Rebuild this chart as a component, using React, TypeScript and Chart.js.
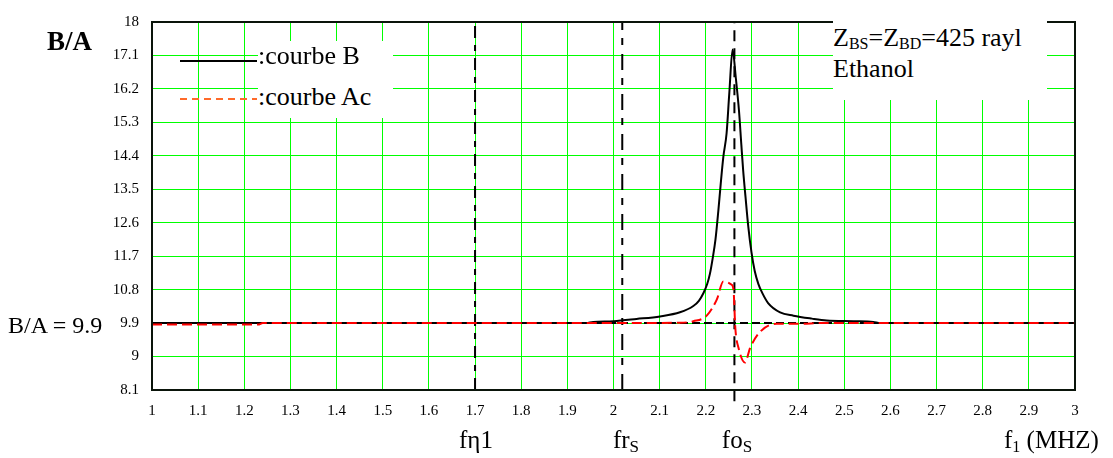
import React, { useEffect, useRef } from "react";
import { Chart, registerables } from "chart.js";

Chart.register(...registerables);

// ---------- data ----------
const xTickValues = [1, 1.1, 1.2, 1.3, 1.4, 1.5, 1.6, 1.7, 1.8, 1.9, 2, 2.1, 2.2, 2.3, 2.4, 2.5, 2.6, 2.7, 2.8, 2.9, 3];
const xTickLabels = ["1", "1.1", "1.2", "1.3", "1.4", "1.5", "1.6", "1.7", "1.8", "1.9", "2", "2.1", "2.2", "2.3", "2.4", "2.5", "2.6", "2.7", "2.8", "2.9", "3"];
const yTickValues = [8.1, 9, 9.9, 10.8, 11.7, 12.6, 13.5, 14.4, 15.3, 16.2, 17.1, 18];
const yTickLabels = ["8.1", "9", "9.9", "10.8", "11.7", "12.6", "13.5", "14.4", "15.3", "16.2", "17.1", "18"];

// courbe B (black, solid)
const curveBx = [1, 1.5, 1.94, 1.956, 2.0, 2.05, 2.101, 2.144, 2.173, 2.185, 2.195, 2.203, 2.209, 2.215, 2.221, 2.227, 2.232, 2.238, 2.245, 2.251, 2.258, 2.265, 2.272, 2.277, 2.281, 2.286, 2.292, 2.299, 2.306, 2.314, 2.322, 2.335, 2.361, 2.39, 2.43, 2.462, 2.52, 2.563, 2.578, 2.8, 3];
const curveBy = [9.9, 9.9, 9.9, 9.93, 9.95, 10.01, 10.08, 10.19, 10.36, 10.5, 10.71, 10.95, 11.23, 11.65, 12.15, 12.9, 13.6, 14.37, 15.0, 16.1, 17.26, 16.5, 15.6, 14.7, 14.0, 13.3, 12.5, 11.8, 11.3, 10.95, 10.72, 10.44, 10.19, 10.1, 10.02, 9.97, 9.95, 9.93, 9.9, 9.9, 9.9];

// courbe Ac (red, dashed)
const curveAcX = [1, 1.23, 1.24, 1.6, 2.0, 2.144, 2.173, 2.202, 2.224, 2.238, 2.256, 2.26, 2.264, 2.271, 2.285, 2.296, 2.318, 2.354, 2.404, 2.45, 2.7, 3];
const curveAcY = [9.86, 9.86, 9.9, 9.9, 9.9, 9.91, 9.95, 10.1, 10.54, 11.02, 10.93, 10.8, 9.76, 9.23, 8.84, 9.23, 9.67, 9.88, 9.88, 9.9, 9.9, 9.9];

// reference level and marker frequencies
const refLevel = 9.9;
const fEta1 = 1.7;
const frS = 2.019;
const foS = 2.262;
const yMin = 8.1;
const yMax = 18;
const foBottom = 7.8;

const serif = "'Liberation Serif', 'Times New Roman', serif";

export default function App() {
  const canvasRef = useRef<HTMLCanvasElement | null>(null);

  useEffect(() => {
    const canvas = canvasRef.current;
    if (!canvas) return;

    const frame = {
      id: "frame",
      afterDraw(chart: any) {
        const { ctx, chartArea } = chart;
        ctx.save();
        // legend samples
        ctx.lineWidth = 2;
        ctx.strokeStyle = "#000";
        ctx.setLineDash([]);
        ctx.beginPath();
        ctx.moveTo(180, 61);
        ctx.lineTo(257, 61);
        ctx.stroke();
        ctx.strokeStyle = "#ff6a2a";
        ctx.setLineDash([7, 5]);
        ctx.beginPath();
        ctx.moveTo(180, 99);
        ctx.lineTo(257, 99);
        ctx.stroke();
        // border
        ctx.setLineDash([]);
        ctx.strokeStyle = "#0a140a";
        ctx.lineWidth = 2;
        ctx.strokeRect(chartArea.left, chartArea.top, chartArea.right - chartArea.left, chartArea.bottom - chartArea.top);
        ctx.restore();
      },
    };

    const pts = (xs: number[], ys: number[]) => xs.map((x, i) => ({ x, y: ys[i] }));

    const chart = new Chart(canvas, {
      type: "line",
      data: {
        datasets: [
          {
            label: "courbe Ac",
            data: pts(curveAcX, curveAcY),
            borderColor: "#ff0000",
            borderWidth: 2,
            borderDash: [10, 5],
            pointRadius: 0,
            cubicInterpolationMode: "monotone",
            order: 0,
          },
          {
            label: "courbe B",
            data: pts(curveBx, curveBy),
            borderColor: "#000000",
            borderWidth: 2,
            pointRadius: 0,
            cubicInterpolationMode: "monotone",
            order: 1,
          },
          {
            label: "ref",
            data: [
              { x: 1, y: refLevel },
              { x: 3, y: refLevel },
            ],
            borderColor: "#000000",
            borderWidth: 2,
            borderDash: [8, 4],
            pointRadius: 0,
            order: 2,
          },
          {
            label: "feta1",
            data: [
              { x: fEta1, y: yMin },
              { x: fEta1, y: yMax },
            ],
            borderColor: "#000000",
            borderWidth: 2,
            borderDash: [12, 7, 6, 7],
            pointRadius: 0,
            order: 3,
          },
          {
            label: "frS",
            data: [
              { x: frS, y: yMin },
              { x: frS, y: yMax },
            ],
            borderColor: "#000000",
            borderWidth: 2,
            borderDash: [16, 9, 7, 8],
            pointRadius: 0,
            order: 3,
          },
          {
            label: "foS",
            data: [
              { x: foS, y: foBottom },
              { x: foS, y: yMax },
            ],
            borderColor: "#000000",
            borderWidth: 2,
            borderDash: [11, 7],
            pointRadius: 0,
            clip: false as any,
            order: 3,
          },
        ],
      },
      options: {
        responsive: false,
        animation: false,
        layout: { padding: { top: 11, right: 38, left: 0, bottom: 0 } },
        plugins: { legend: { display: false }, tooltip: { enabled: false } },
        scales: {
          x: {
            type: "linear",
            min: 1,
            max: 3,
            afterBuildTicks: (s: any) => {
              s.ticks = xTickValues.map((v) => ({ value: v }));
            },
            afterFit: (s: any) => {
              s.height = 68;
            },
            grid: { color: "#00ff00", lineWidth: 1, drawTicks: false },
            border: { display: false },
            ticks: {
              color: "#000",
              font: { family: serif, size: 15 },
              padding: 12,
              autoSkip: false,
              maxRotation: 0,
              callback: (_v: any, i: number) => xTickLabels[i],
            },
          },
          y: {
            type: "linear",
            min: yMin,
            max: yMax,
            afterBuildTicks: (s: any) => {
              s.ticks = yTickValues.map((v) => ({ value: v }));
            },
            afterFit: (s: any) => {
              s.width = 152;
            },
            grid: { color: "#00ff00", lineWidth: 1, drawTicks: false },
            border: { display: false },
            ticks: {
              color: "#000",
              font: { family: serif, size: 15 },
              padding: 13,
              autoSkip: false,
              callback: (_v: any, i: number) => yTickLabels[i],
            },
          },
        },
      },
      plugins: [frame],
    } as any);

    return () => chart.destroy();
  }, []);

  const txt = (size: number, extra: React.CSSProperties = {}): React.CSSProperties => ({
    position: "absolute",
    fontFamily: serif,
    fontSize: size,
    lineHeight: 1,
    whiteSpace: "nowrap",
    color: "#000",
    ...extra,
  });
  const sub = (size: number, drop: number): React.CSSProperties => ({ fontSize: size, verticalAlign: -drop });

  return (
    <div style={{ position: "absolute", left: 0, top: 0, width: 1113, height: 458, background: "#fff", overflow: "hidden" }}>
      <canvas ref={canvasRef} width={1113} height={458} style={{ position: "absolute", left: 0, top: 0 }} />
      {/* white boxes behind legend / annotation text */}
      <div style={{ position: "absolute", left: 258, top: 41, width: 135, height: 77, background: "#fff" }} />
      <div style={{ position: "absolute", left: 833, top: 20, width: 214, height: 80, background: "#fff" }} />

      <div style={txt(27, { left: 47, top: 28, fontWeight: "bold" })}>B/A</div>
      <div style={txt(24, { left: 8, top: 313 })}>B/A = 9.9</div>

      <div style={txt(26, { left: 258, top: 43 })}>:courbe B</div>
      <div style={txt(26, { left: 258, top: 84 })}>:courbe Ac</div>

      <div style={txt(26, { left: 833, top: 25 })}>
        Z<span style={sub(16, 3)}>BS</span>=Z<span style={sub(16, 3)}>BD</span>=425 rayl
      </div>
      <div style={txt(26, { left: 833, top: 56 })}>Ethanol</div>

      <div style={txt(25, { left: 426, top: 427, width: 100, textAlign: "center" })}>fη1</div>
      <div style={txt(25, { left: 576, top: 427, width: 100, textAlign: "center" })}>
        fr<span style={sub(17, 4)}>S</span>
      </div>
      <div style={txt(25, { left: 687, top: 427, width: 100, textAlign: "center" })}>
        fo<span style={sub(17, 4)}>S</span>
      </div>
      <div style={txt(25, { left: 1004, top: 427 })}>
        f<span style={sub(16, 4)}>1</span> (MHZ)
      </div>
    </div>
  );
}
